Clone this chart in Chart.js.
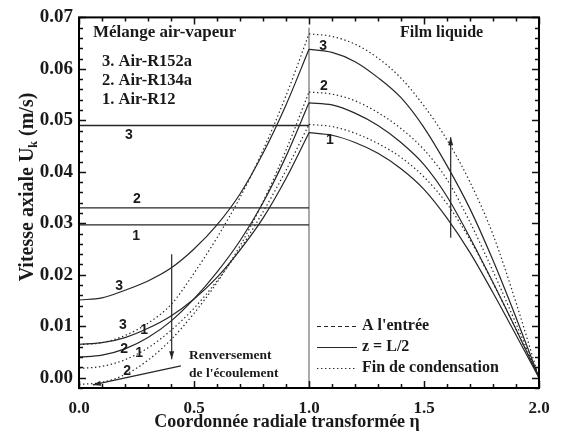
<!DOCTYPE html>
<html>
<head>
<meta charset="utf-8">
<script src="https://cdn.jsdelivr.net/npm/chart.js@4.4.0/dist/chart.umd.min.js"></script>
<style>
  html, body { margin: 0; padding: 0; background: #fff; }
  #wrap { width: 565px; height: 442px; }
</style>
</head>
<body>
<div id="wrap"><canvas id="chart"></canvas></div>
<script>
// transformed radial coordinate: core 0..1, liquid film 1..2
const eta = [0.0, 0.1, 0.2, 0.3, 0.4, 0.5, 0.6, 0.7, 0.8, 0.9, 1.0,
             1.1, 1.2, 1.3, 1.4, 1.5, 1.6, 1.7, 1.8, 1.9, 2.0];

// z = L/2 (solid)
const uMid1 = [0.0065, 0.0068, 0.0078, 0.0096, 0.0120, 0.0153, 0.0195, 0.0248, 0.0310, 0.0387, 0.0476,
               0.0471, 0.0457, 0.0436, 0.0406, 0.0366, 0.0310, 0.0243, 0.0165, 0.0083, 0.0];
const uMid2 = [0.0040, 0.0044, 0.0056, 0.0078, 0.0110, 0.0153, 0.0205, 0.0266, 0.0340, 0.0430, 0.0534,
               0.0530, 0.0514, 0.0490, 0.0457, 0.0414, 0.0352, 0.0272, 0.0185, 0.0094, 0.0];
const uMid3 = [0.0151, 0.0155, 0.0170, 0.0188, 0.0213, 0.0250, 0.0297, 0.0357, 0.0436, 0.0530, 0.0638,
               0.0632, 0.0614, 0.0583, 0.0544, 0.0486, 0.0412, 0.0328, 0.0228, 0.0117, 0.0];

// fin de condensation (dotted)
const uEnd1 = [0.0018, 0.0022, 0.0035, 0.0058, 0.0092, 0.0135, 0.0188, 0.0250, 0.0322, 0.0403, 0.0492,
               0.0488, 0.0475, 0.0455, 0.0428, 0.0390, 0.0338, 0.0268, 0.0184, 0.0094, 0.0];
const uEnd2 = [-0.0013, -0.0009, 0.0006, 0.0034, 0.0074, 0.0125, 0.0185, 0.0256, 0.0342, 0.0442, 0.0555,
               0.0551, 0.0538, 0.0515, 0.0484, 0.0443, 0.0385, 0.0302, 0.0207, 0.0105, 0.0];
const uEnd3 = [0.0064, 0.0068, 0.0082, 0.0106, 0.0142, 0.0203, 0.0272, 0.0350, 0.0442, 0.0548, 0.0668,
               0.0663, 0.0648, 0.0621, 0.0582, 0.0528, 0.0462, 0.0380, 0.0278, 0.0146, 0.0];

// a l'entree: uniform core velocity (R12, R134a, R152a)
const uInlet = [0.0297, 0.0330, 0.0490];
const mixtures = ['3. Air-R152a', '2. Air-R134a', '1. Air-R12'];

const xTicks = [0.0, 0.5, 1.0, 1.5, 2.0];
const yTicks = [0.00, 0.01, 0.02, 0.03, 0.04, 0.05, 0.06, 0.07];

const ink = '#262626';
const serif = "'Liberation Serif', 'Times New Roman', serif";
const sans = "'Liberation Sans', Arial, sans-serif";

function pts(u, from, to) {
  const out = [];
  for (let i = from; i <= to; i++) out.push({ x: eta[i], y: u[i] });
  return out;
}

// core and film drawn separately so the corner at eta = 1 stays sharp
function curve(u, dash) {
  const base = { borderColor: ink, borderWidth: 1.2, borderDash: dash, pointRadius: 0,
                 cubicInterpolationMode: 'monotone', fill: false };
  return [
    Object.assign({ data: pts(u, 0, 10) }, base),
    Object.assign({ data: pts(u, 10, 20) }, base)
  ];
}

const dotted = [1.4, 2.6];
let datasets = [];
[uMid1, uMid2, uMid3].forEach(u => { datasets = datasets.concat(curve(u, [])); });
[uEnd1, uEnd2, uEnd3].forEach(u => { datasets = datasets.concat(curve(u, dotted)); });
uInlet.forEach(u => {
  datasets.push({ data: [{ x: 0, y: u }, { x: 1, y: u }], borderColor: ink, borderWidth: 1.3, pointRadius: 0 });
});
// liquid/vapour interface
datasets.push({ data: [{ x: 1, y: -0.002 }, { x: 1, y: 0.068 }], borderColor: '#555', borderWidth: 1, pointRadius: 0 });

function arrowHead(ctx, x, y, ang, len, half) {
  ctx.beginPath();
  ctx.moveTo(x, y);
  ctx.lineTo(x - len * Math.cos(ang) + half * Math.sin(ang), y - len * Math.sin(ang) - half * Math.cos(ang));
  ctx.lineTo(x - len * Math.cos(ang) - half * Math.sin(ang), y - len * Math.sin(ang) + half * Math.cos(ang));
  ctx.closePath();
  ctx.fill();
}

function arrow(ctx, x1, y1, x2, y2) {
  ctx.beginPath();
  ctx.moveTo(x1, y1);
  ctx.lineTo(x2, y2);
  ctx.stroke();
  arrowHead(ctx, x2, y2, Math.atan2(y2 - y1, x2 - x1), 8, 2.5);
}

const decor = {
  id: 'decor',
  afterDatasetsDraw(chart) {
    const ctx = chart.ctx;
    const a = chart.chartArea;
    const xs = chart.scales.x, ys = chart.scales.y;
    const X = v => xs.getPixelForValue(v);
    const Y = v => ys.getPixelForValue(v);
    ctx.save();

    // inward ticks on all four sides
    ctx.strokeStyle = '#111';
    ctx.lineWidth = 1.5;
    ctx.beginPath();
    for (let i = 0; i <= 20; i++) {
      const px = Math.round(X(i / 10)) + 0.5;
      const len = i % 5 === 0 ? 7 : 4;
      ctx.moveTo(px, a.bottom); ctx.lineTo(px, a.bottom - len);
      ctx.moveTo(px, a.top); ctx.lineTo(px, a.top + len);
    }
    for (let k = -1; k <= 35; k++) {
      const py = Math.round(Y(k * 0.002)) + 0.5;
      const len = k % 5 === 0 ? 7 : 4;
      ctx.moveTo(a.left, py); ctx.lineTo(a.left + len, py);
      ctx.moveTo(a.right, py); ctx.lineTo(a.right - len, py);
    }
    ctx.stroke();

    // frame
    ctx.lineWidth = 2;
    ctx.strokeStyle = '#000';
    ctx.strokeRect(a.left, a.top, a.right - a.left, a.bottom - a.top);

    // arrows
    ctx.strokeStyle = ink;
    ctx.fillStyle = ink;
    ctx.lineWidth = 1.2;
    arrow(ctx, X(0.403), Y(0.0240), X(0.403), Y(0.0036));
    arrow(ctx, X(1.616), Y(0.0272), X(1.616), Y(0.0467));
    arrow(ctx, X(0.443), Y(0.0023), X(0.060), Y(-0.0014));

    // text blocks
    ctx.fillStyle = '#1a1a1a';
    ctx.textBaseline = 'middle';
    ctx.textAlign = 'left';
    ctx.font = 'bold 17px ' + serif;
    ctx.fillText('Mélange air-vapeur', 93, 33);
    ctx.font = 'bold 16px ' + serif;
    ctx.fillText('Film liquide', 400, 33);
    ctx.font = 'bold 16.5px ' + serif;
    mixtures.forEach((m, i) => ctx.fillText(m, 102, 62 + i * 18.7));
    ctx.font = 'bold 13.5px ' + serif;
    ctx.fillText('Renversement', 189, 356);
    ctx.fillText("de l'écoulement", 189, 374);

    // curve numbers
    ctx.font = 'bold 14px ' + sans;
    ctx.textAlign = 'center';
    const tags = [
      ['3', 0.217, 0.0472], ['2', 0.252, 0.0346], ['1', 0.248, 0.0276],
      ['3', 0.174, 0.0178], ['3', 0.191, 0.0103], ['1', 0.283, 0.0092],
      ['2', 0.196, 0.0055], ['1', 0.261, 0.0048], ['2', 0.209, 0.0013],
      ['3', 1.061, 0.0644], ['2', 1.065, 0.0567], ['1', 1.091, 0.0461]
    ];
    tags.forEach(t => ctx.fillText(t[0], X(t[1]), Y(t[2])));

    // legend
    const leg = [["A l'entrée", [4, 3]], ['z = L/2', []], ['Fin de condensation', dotted]];
    ctx.textAlign = 'left';
    ctx.font = 'bold 16px ' + serif;
    leg.forEach((l, i) => {
      const y = 326 + i * 21;
      ctx.setLineDash(l[1]);
      ctx.lineWidth = 1.2;
      ctx.strokeStyle = ink;
      ctx.beginPath();
      ctx.moveTo(317, y + 0.5); ctx.lineTo(357, y + 0.5);
      ctx.stroke();
      ctx.setLineDash([]);
      ctx.fillText(l[0], 362, y);
    });

    // axis titles
    ctx.font = 'bold 18px ' + serif;
    ctx.textAlign = 'center';
    ctx.textBaseline = 'alphabetic';
    ctx.fillText('Coordonnée radiale transformée η', 287, 427);

    ctx.translate(28, 187);
    ctx.rotate(-Math.PI / 2);
    ctx.textAlign = 'left';
    ctx.textBaseline = 'middle';
    const p1 = 'Vitesse axiale U', p2 = 'k', p3 = ' (m/s)';
    ctx.font = 'bold 20px ' + serif;
    const w1 = ctx.measureText(p1).width, w3 = ctx.measureText(p3).width;
    ctx.font = 'bold 12px ' + serif;
    const w2 = ctx.measureText(p2).width;
    let x0 = -(w1 + w2 + w3) / 2;
    ctx.font = 'bold 20px ' + serif;
    ctx.fillText(p1, x0, 0);
    ctx.font = 'bold 12px ' + serif;
    ctx.fillText(p2, x0 + w1, 6);
    ctx.font = 'bold 20px ' + serif;
    ctx.fillText(p3, x0 + w1 + w2, 0);
    ctx.restore();
  }
};

new Chart(document.getElementById('chart'), {
  type: 'line',
  data: { datasets: datasets },
  options: {
    responsive: true,
    maintainAspectRatio: false,
    animation: false,
    layout: { padding: { left: 0, right: 26, top: 13, bottom: 0 } },
    plugins: { legend: { display: false }, tooltip: { enabled: false } },
    scales: {
      x: {
        type: 'linear', min: 0, max: 2,
        afterBuildTicks: s => { s.ticks = xTicks.map(v => ({ value: v })); },
        afterFit: s => { s.height = 54; },
        grid: { display: false, drawTicks: false },
        border: { display: false },
        ticks: { autoSkip: false, maxRotation: 0, padding: 10, color: '#1a1a1a',
                 font: { family: serif, size: 17, weight: 'bold' },
                 callback: v => v.toFixed(1) }
      },
      y: {
        type: 'linear', min: -0.002, max: 0.07,
        afterBuildTicks: s => { s.ticks = yTicks.map(v => ({ value: v })); },
        afterFit: s => { s.width = 79; },
        grid: { display: false, drawTicks: false },
        border: { display: false },
        ticks: { autoSkip: false, padding: 6, color: '#1a1a1a',
                 font: { family: serif, size: 19, weight: 'bold' },
                 callback: v => v.toFixed(2) }
      }
    }
  },
  plugins: [decor]
});
</script>
</body>
</html>
